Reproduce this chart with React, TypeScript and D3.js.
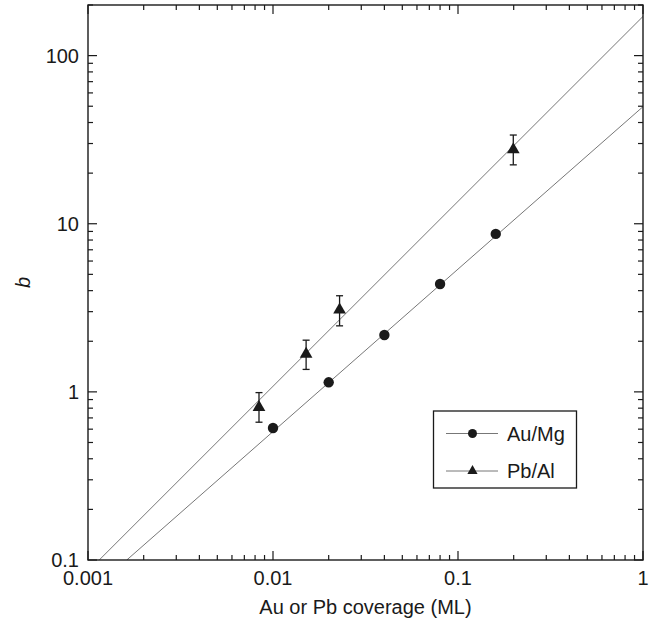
import { useEffect, useRef } from "react";
import * as d3 from "d3";

// Au/Mg data (circles)
const auX = [0.01, 0.02, 0.04, 0.08, 0.16];
const auY = [0.61, 1.14, 2.18, 4.38, 8.7];

// Pb/Al data (triangles) with error bars
const pbX = [0.0084, 0.0151, 0.0229, 0.199];
const pbY = [0.81, 1.68, 3.08, 27.6];
const pbLow = [0.66, 1.36, 2.47, 22.4];
const pbHigh = [0.99, 2.03, 3.73, 33.7];

// fitted power-law lines (end points on log-log axes)
const auFitX = [0.00162, 1];
const auFitY = [0.1, 49.7];
const pbFitX = [0.00115, 1];
const pbFitY = [0.1, 171];

const xTicks = [0.001, 0.01, 0.1, 1];
const xTickLabels = ["0.001", "0.01", "0.1", "1"];
const yTicks = [0.1, 1, 10, 100];
const yTickLabels = ["0.1", "1", "10", "100"];

const legendNames = ["Au/Mg", "Pb/Al"];

export default function App() {
  const ref = useRef<SVGSVGElement | null>(null);

  useEffect(() => {
    const svg = d3.select(ref.current);
    svg.selectAll("*").remove();

    const W = 657, H = 625;
    const left = 88, right = 643, top = 5, bottom = 560;
    const font = "'Liberation Sans', Arial, sans-serif";
    const ink = "#1a1a1a";

    const x = d3.scaleLog().domain([0.001, 1]).range([left, right]);
    const y = d3.scaleLog().domain([0.1, 200]).range([bottom, top]);

    svg.attr("width", W).attr("height", H).style("font-family", font);

    svg.append("defs").append("clipPath").attr("id", "plotclip")
      .append("rect")
      .attr("x", left).attr("y", top)
      .attr("width", right - left).attr("height", bottom - top);

    // 1. FIT LINES
    const line = d3.line<[number, number]>()
      .x(d => x(d[0]))
      .y(d => y(d[1]));

    const fits = [
      auFitX.map((v, i) => [v, auFitY[i]] as [number, number]),
      pbFitX.map((v, i) => [v, pbFitY[i]] as [number, number]),
    ];
    svg.append("g").attr("clip-path", "url(#plotclip)")
      .selectAll("path")
      .data(fits)
      .enter()
      .append("path")
      .attr("d", d => line(d))
      .attr("fill", "none")
      .attr("stroke", "#777")
      .attr("stroke-width", 1);

    // 2. ERROR BARS
    const eb = svg.append("g").attr("stroke", ink).attr("stroke-width", 1.3);
    pbX.forEach((v, i) => {
      const cx = x(v);
      eb.append("line").attr("x1", cx).attr("x2", cx)
        .attr("y1", y(pbLow[i])).attr("y2", y(pbHigh[i]));
      [pbLow[i], pbHigh[i]].forEach(e => {
        eb.append("line").attr("x1", cx - 3.5).attr("x2", cx + 3.5)
          .attr("y1", y(e)).attr("y2", y(e));
      });
    });

    // 3. MARKERS
    const tri = d3.symbol().type(d3.symbolTriangle);

    svg.append("g").selectAll("circle")
      .data(auX)
      .enter()
      .append("circle")
      .attr("cx", d => x(d))
      .attr("cy", (d, i) => y(auY[i]))
      .attr("r", 5.2)
      .attr("fill", ink);

    svg.append("g").selectAll("path")
      .data(pbX)
      .enter()
      .append("path")
      .attr("d", tri.size(70)() as string)
      .attr("transform", (d, i) => `translate(${x(d)},${y(pbY[i])})`)
      .attr("fill", ink);

    // 4. AXES FRAME + TICKS (inward on all four sides)
    svg.append("rect")
      .attr("x", left).attr("y", top)
      .attr("width", right - left).attr("height", bottom - top)
      .attr("fill", "none").attr("stroke", ink).attr("stroke-width", 1.4);

    const ticks = svg.append("g").attr("stroke", ink).attr("stroke-width", 1.2);
    const minorX: number[] = [];
    for (let e = -3; e < 0; e++) for (let m = 2; m <= 9; m++) minorX.push(m * Math.pow(10, e));
    const minorY: number[] = [];
    for (let e = -1; e < 3; e++) for (let m = 2; m <= 9; m++) {
      const v = m * Math.pow(10, e);
      if (v <= 200) minorY.push(v);
    }

    const xt = (v: number, len: number) => {
      ticks.append("line").attr("x1", x(v)).attr("x2", x(v)).attr("y1", bottom).attr("y2", bottom - len);
      ticks.append("line").attr("x1", x(v)).attr("x2", x(v)).attr("y1", top).attr("y2", top + len);
    };
    const yt = (v: number, len: number) => {
      ticks.append("line").attr("y1", y(v)).attr("y2", y(v)).attr("x1", left).attr("x2", left + len);
      ticks.append("line").attr("y1", y(v)).attr("y2", y(v)).attr("x1", right).attr("x2", right - len);
    };
    xTicks.forEach(v => xt(v, 9));
    minorX.forEach(v => xt(v, 5));
    yTicks.forEach(v => yt(v, 9));
    minorY.forEach(v => yt(v, 5));

    // tick labels
    svg.append("g").selectAll("text")
      .data(xTicks)
      .enter()
      .append("text")
      .attr("x", d => x(d))
      .attr("y", 585)
      .attr("text-anchor", "middle")
      .style("font-size", "20px")
      .attr("fill", ink)
      .text((d, i) => xTickLabels[i]);

    svg.append("g").selectAll("text")
      .data(yTicks)
      .enter()
      .append("text")
      .attr("x", left - 9)
      .attr("y", d => y(d) + 7)
      .attr("text-anchor", "end")
      .style("font-size", "20px")
      .attr("fill", ink)
      .text((d, i) => yTickLabels[i]);

    // axis titles
    svg.append("text")
      .attr("x", (left + right) / 2)
      .attr("y", 614)
      .attr("text-anchor", "middle")
      .style("font-size", "20px")
      .attr("fill", ink)
      .text("Au or Pb coverage (ML)");

    svg.append("text")
      .attr("transform", `translate(30, ${(top + bottom) / 2}) rotate(-90)`)
      .attr("text-anchor", "middle")
      .style("font-size", "20px")
      .style("font-style", "italic")
      .attr("fill", ink)
      .text("b");

    // 5. LEGEND
    const legend = svg.append("g");
    legend.append("rect")
      .attr("x", 433.5).attr("y", 411)
      .attr("width", 143).attr("height", 77)
      .attr("fill", "#fff").attr("stroke", ink).attr("stroke-width", 1.3);

    legendNames.forEach((name, i) => {
      const row = legend.append("g").attr("transform", `translate(0, ${433.5 + i * 37.5})`);
      row.append("line")
        .attr("x1", 446).attr("x2", 498)
        .attr("stroke", "#777").attr("stroke-width", 1);
      if (i === 0) {
        row.append("circle").attr("cx", 472.5).attr("r", 4.5).attr("fill", ink);
      } else {
        row.append("path")
          .attr("d", tri.size(45)() as string)
          .attr("transform", "translate(472.5, 0)")
          .attr("fill", ink);
      }
      row.append("text")
        .attr("x", 507)
        .attr("y", 7)
        .style("font-size", "20px")
        .attr("fill", ink)
        .text(name);
    });
  }, []);

  return (
    <div style={{ position: "absolute", left: 0, top: 0, width: 657, height: 625, background: "#fff" }}>
      <svg ref={ref} style={{ display: "block" }} />
    </div>
  );
}
